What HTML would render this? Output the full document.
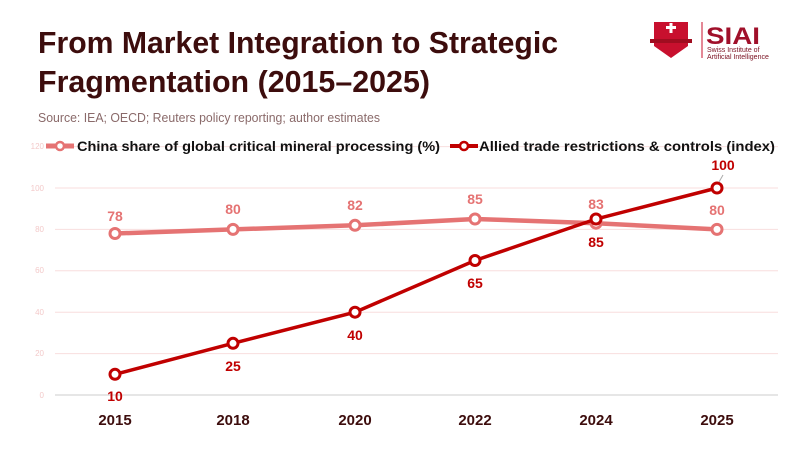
<!DOCTYPE html>
<html><head><meta charset="utf-8"><style>body{margin:0;background:#fff}svg{display:block}</style></head>
<body>
<svg width="800" height="450" xmlns="http://www.w3.org/2000/svg" font-family="Liberation Sans, sans-serif">
<rect width="800" height="450" fill="#fff"/>
<text x="38" y="53" font-size="31" font-weight="bold" fill="#3d0d0d" textLength="520" lengthAdjust="spacingAndGlyphs">From Market Integration to Strategic</text>
<text x="38" y="92" font-size="31" font-weight="bold" fill="#3d0d0d" textLength="392" lengthAdjust="spacingAndGlyphs">Fragmentation (2015–2025)</text>
<text x="38" y="122" font-size="13" fill="#8a6a6a" textLength="342" lengthAdjust="spacingAndGlyphs">Source: IEA; OECD; Reuters policy reporting; author estimates</text>
<!-- logo -->
<path d="M654 22 L688 22 L688 46 L671 58 L654 46 Z" fill="#c8102e"/>
<rect x="666" y="26" width="10" height="3" fill="#fff"/><rect x="669.5" y="23" width="3" height="10" fill="#fff"/>
<rect x="650" y="39" width="42" height="4" fill="#a00d20"/>
<line x1="702" y1="22" x2="702" y2="58" stroke="#c8102e" stroke-width="1"/>
<text x="706" y="44" font-size="24" font-weight="bold" fill="#a0102a" textLength="54" lengthAdjust="spacingAndGlyphs">SIAI</text>
<text x="707" y="52" font-size="7" fill="#7a1020">Swiss Institute of</text>
<text x="707" y="59" font-size="7" fill="#7a1020">Artificial Intelligence</text>
<!-- grid -->
<g stroke="#f8dede" stroke-width="1">
<line x1="55" x2="778" y1="146.6" y2="146.6"/><line x1="55" x2="778" y1="188" y2="188"/><line x1="55" x2="778" y1="229.4" y2="229.4"/><line x1="55" x2="778" y1="270.8" y2="270.8"/><line x1="55" x2="778" y1="312.2" y2="312.2"/><line x1="55" x2="778" y1="353.6" y2="353.6"/>
</g>
<line x1="55" x2="778" y1="395" y2="395" stroke="#ccc"/>
<g font-size="8" fill="#f3caca" text-anchor="end">
<text x="44" y="149">120</text><text x="44" y="191">100</text><text x="44" y="232">80</text><text x="44" y="273">60</text><text x="44" y="315">40</text><text x="44" y="356">20</text><text x="44" y="398">0</text>
</g>
<g font-size="15" font-weight="bold" fill="#3d0d0d" text-anchor="middle">
<text x="115" y="425">2015</text><text x="233" y="425">2018</text><text x="355" y="425">2020</text><text x="475" y="425">2022</text><text x="596" y="425">2024</text><text x="717" y="425">2025</text>
</g>
<!-- legend -->
<line x1="46" y1="146" x2="74" y2="146" stroke="#e57373" stroke-width="5"/><circle cx="60" cy="146" r="4" fill="#fff" stroke="#e57373" stroke-width="2.5"/>
<text x="77" y="151" font-size="14" font-weight="bold" fill="#111" textLength="363" lengthAdjust="spacingAndGlyphs">China share of global critical mineral processing (%)</text>
<line x1="450" y1="146" x2="478" y2="146" stroke="#c00000" stroke-width="4"/><circle cx="464" cy="146" r="4" fill="#fff" stroke="#c00000" stroke-width="2.5"/>
<text x="479" y="151" font-size="14" font-weight="bold" fill="#111" textLength="296" lengthAdjust="spacingAndGlyphs">Allied trade restrictions &amp; controls (index)</text>
<!-- series 1 -->
<polyline points="115,233.5 233,229.4 355,225.3 475,219 596,223.2 717,229.4" fill="none" stroke="#e57373" stroke-width="4.5"/>
<g fill="#fff" stroke="#e57373" stroke-width="3">
<circle cx="115" cy="233.5" r="5"/><circle cx="233" cy="229.4" r="5"/><circle cx="355" cy="225.3" r="5"/><circle cx="475" cy="219" r="5"/><circle cx="596" cy="223.2" r="5"/><circle cx="717" cy="229.4" r="5"/>
</g>
<g font-size="14" font-weight="bold" fill="#e57373" text-anchor="middle">
<text x="115" y="221">78</text><text x="233" y="214">80</text><text x="355" y="210">82</text><text x="475" y="204">85</text><text x="596" y="209">83</text><text x="717" y="215">80</text>
</g>
<!-- series 2 -->
<polyline points="115,374.3 233,343.3 355,312.2 475,260.5 596,219 717,188" fill="none" stroke="#c00000" stroke-width="3.5"/>
<g fill="#fff" stroke="#c00000" stroke-width="3">
<circle cx="115" cy="374.3" r="5"/><circle cx="233" cy="343.3" r="5"/><circle cx="355" cy="312.2" r="5"/><circle cx="475" cy="260.5" r="5"/><circle cx="596" cy="219" r="5"/><circle cx="717" cy="188" r="5"/>
</g>
<line x1="719" y1="182" x2="723" y2="175" stroke="#aaa" stroke-width="1"/>
<g font-size="14" font-weight="bold" fill="#c00000" text-anchor="middle">
<text x="115" y="401">10</text><text x="233" y="371">25</text><text x="355" y="340">40</text><text x="475" y="288">65</text><text x="596" y="247">85</text><text x="723" y="170">100</text>
</g>
</svg>
</body></html>
